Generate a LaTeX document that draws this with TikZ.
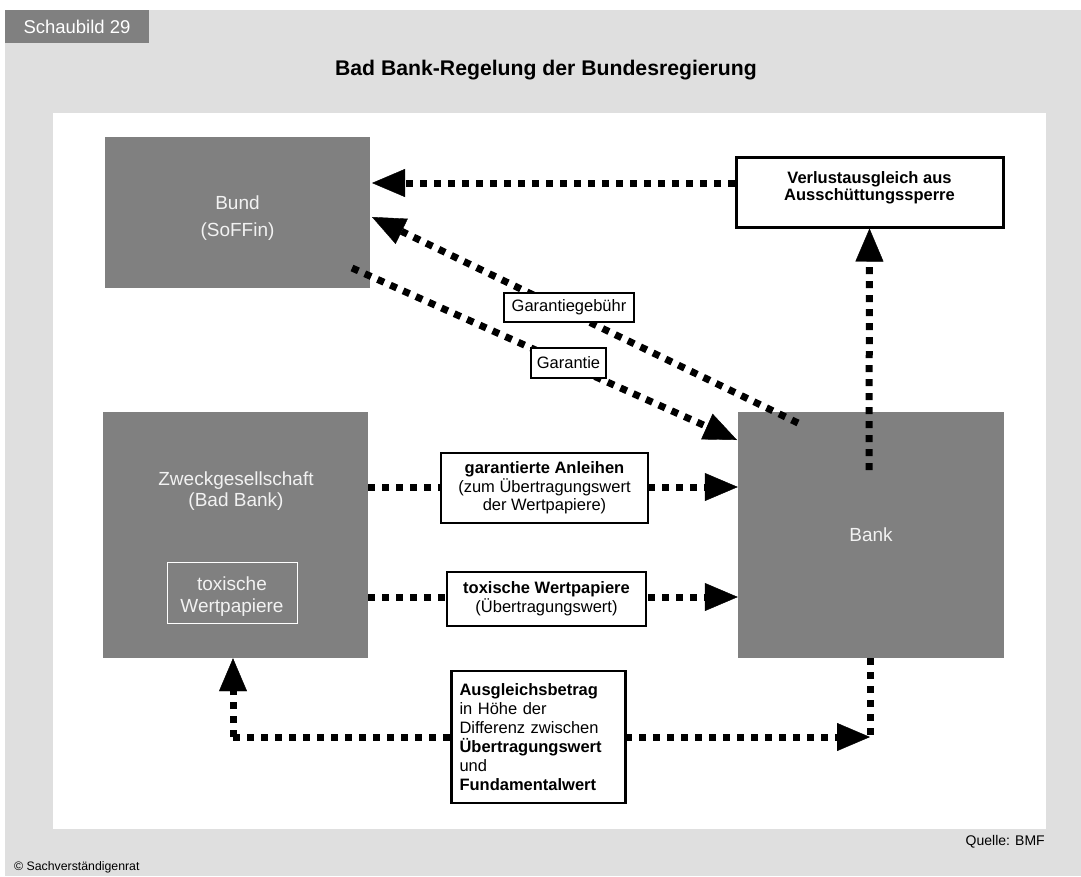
\documentclass[tikz,border=0pt]{standalone}
\usepackage{fontspec}
\setmainfont{Liberation Sans}
\usetikzlibrary{arrows.meta}
\definecolor{bggray}{HTML}{DFDFDF}
\definecolor{boxgray}{HTML}{808080}
\definecolor{boxtext}{HTML}{F2F2F2}
\pgfdeclarelayer{back}
\pgfdeclarelayer{mid}
\pgfsetlayers{back,mid,main}
\begin{document}
\begin{tikzpicture}[x=1pt,y=-1pt,
  graybox/.style={fill=boxgray, draw=none, text=boxtext, align=center, inner sep=0pt,
    font=\fontsize{19}{27}\selectfont},
  graytext/.style={text=boxtext, align=center, inner sep=0pt},
  lbl/.style={draw=black, fill=white, line width=2.5pt, align=center, inner sep=0pt,
    font=\fontsize{16.5}{18.7}\selectfont},
  flow/.style={line width=7pt, dash pattern=on 7pt off 7pt},
  tipped/.style={flow, -{Triangle[length=33pt,width=28pt,line width=0.4pt]}}
]
\useasboundingbox (0,0) rectangle (1081,876);
\begin{pgfonlayer}{back}
  \fill[white] (0,0) rectangle (1081,876);
  \fill[bggray] (5,10) rectangle (1081,876);
  \fill[white] (53,113) rectangle (1046,829);
  \node[fill=boxgray, minimum width=144pt, minimum height=33pt, inner sep=0pt,
        text=white, font=\fontsize{18.5}{20}\selectfont] (tab) at (77,26.5) {Schaubild 29};
  \node[graybox, minimum width=265pt, minimum height=151pt] (bund) at (237.5,212.5) {};
  \node[graytext, font=\fontsize{19}{27}\selectfont] (bundtxt) at (237.5,218) {Bund\\(SoFFin)};
  \node[graybox, minimum width=265pt, minimum height=246pt] (zweck) at (235.5,535) {};
  \node[graytext, font=\fontsize{19}{20.5}\selectfont] (zwecktxt) at (236,491) {Zweckgesellschaft\\(Bad Bank)};
  \node[draw=white, line width=1pt, minimum width=130pt, minimum height=61pt, inner sep=0pt] (toxin) at (232,592.5) {};
  \node[graytext, font=\fontsize{19}{22}\selectfont] (toxintxt) at (232,597) {toxische\\Wertpapiere};
  \node[graybox, minimum width=266pt, minimum height=246pt] (bank) at (871,535) {Bank};
\end{pgfonlayer}

\node[font=\bfseries\fontsize{21.2}{23}\selectfont, inner sep=0pt] (title) at (546,70) {Bad Bank-Regelung der Bundesregierung};
\node[anchor=east, font=\fontsize{14}{16}\selectfont, inner sep=0pt] (quelle) at (1045,842) {Quelle: BMF};
\node[anchor=west, font=\fontsize{12.3}{14}\selectfont, inner sep=0pt] (copy) at (14,867) {© Sachverständigenrat};

\node[lbl, line width=3pt, minimum width=267pt, minimum height=70pt] (verlust) at (869.5,192) {};
\node[align=center, inner sep=0pt, font=\bfseries\fontsize{16.5}{17.5}\selectfont] (verlusttxt) at (869.5,188) {Verlustausgleich aus\\Ausschüttungssperre};
\node[lbl, minimum width=130pt, minimum height=29pt] (gebuehr) at (569,307.5) {Garantiegebühr};
\node[lbl, minimum width=75pt, minimum height=30pt] (garantie) at (568.5,363) {Garantie};
\node[lbl, minimum width=207pt, minimum height=70pt] (anleihen) at (544.5,488) {\textbf{garantierte Anleihen}\\(zum Übertragungswert\\der Wertpapiere)};
\node[lbl, minimum width=199pt, minimum height=54pt] (toxwp) at (546.5,599) {\textbf{toxische Wertpapiere}\\(Übertragungswert)};
\node[lbl, text width=158pt, align=left, inner sep=8pt, minimum height=132pt,
      font=\fontsize{16.5}{19}\selectfont] (ausgleich) at (538.5,737) {\textbf{Ausgleichsbetrag}\\in Höhe der\\Differenz zwischen\\\textbf{Übertragungswert}\\und\\\textbf{Fundamentalwert}};

\coordinate (aTip) at (372,183);
\coordinate (bStart) at (869,470);
\coordinate (cStart) at (352,268);
\coordinate (cTip) at (737,440);
\coordinate (dStart) at (798,423);
\coordinate (dTip) at (372,217);
\coordinate (gCorner) at (233,737);
\coordinate (gRight) at (870,737);

\begin{pgfonlayer}{mid}
  \draw[tipped] (verlust.west |- aTip) -- (aTip);
  \draw[tipped] (bStart) -- (verlust.south);
  \draw[tipped] (cStart) -- (cTip);
  \draw[tipped] (dStart) -- (dTip);
  \draw[tipped] (zweck.east |- 0,487) -- (bank.west |- 0,487);
  \draw[tipped] (zweck.east |- 0,597) -- (bank.west |- 0,597);
  \draw[flow] (gRight |- bank.south) -- (gRight);
  \draw[tipped] (gCorner) -- (gRight);
  \draw[tipped] (gCorner) -- (gCorner |- zweck.south);
\end{pgfonlayer}
\end{tikzpicture}
\end{document}
